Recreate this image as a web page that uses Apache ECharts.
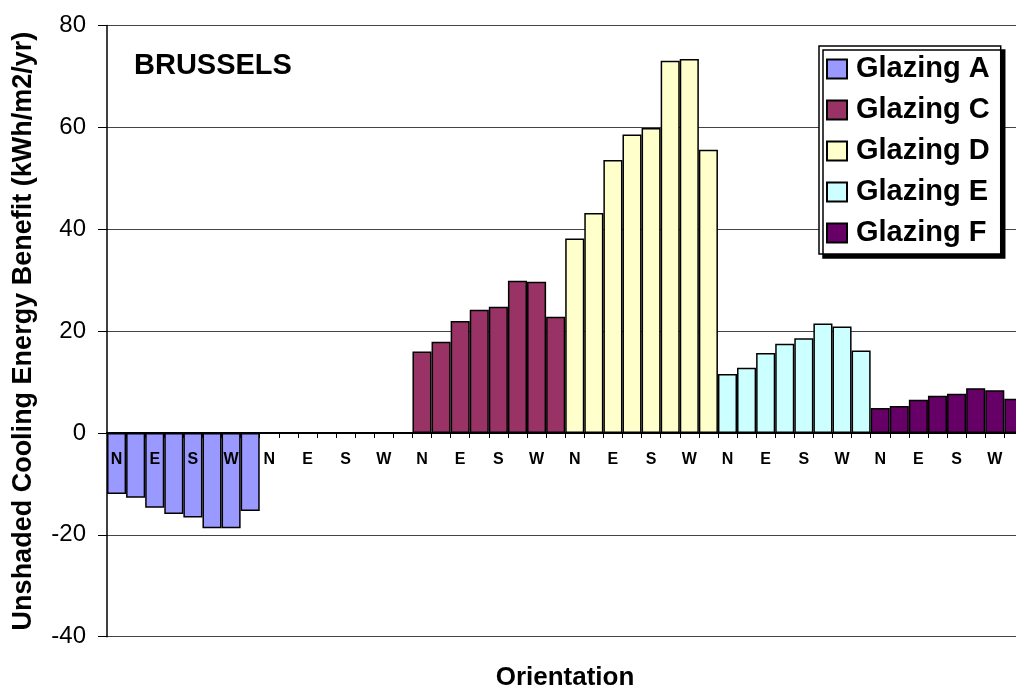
<!DOCTYPE html>
<html>
<head>
<meta charset="utf-8">
<title>Brussels - Unshaded Cooling Energy Benefit</title>
<script src="https://cdn.jsdelivr.net/npm/echarts@6/dist/echarts.min.js"></script>
<style>
  html, body { margin: 0; padding: 0; background: #fff; }
  #chart { width: 1016px; height: 697px; }
</style>
</head>
<body>
<div id="chart"></div>
<script>
// one group = 8 orientations
const orientations = ['N', 'NE', 'E', 'SE', 'S', 'SW', 'W', 'NW'];
const groupCount = 6; // A, (B empty), C, D, E, F

const glazingA = [-12.0, -12.7, -14.7, -15.9, -16.6, -18.7, -18.7, -15.3];
const glazingC = [16.0, 17.9, 22.0, 24.2, 24.8, 29.9, 29.7, 22.8];
const glazingD = [38.2, 43.2, 53.6, 58.6, 59.9, 73.1, 73.4, 55.6];
const glazingE = [11.6, 12.8, 15.7, 17.5, 18.6, 21.5, 20.9, 16.2];
const glazingF = [4.9, 5.3, 6.5, 7.3, 7.7, 8.8, 8.4, 6.7];

const yTicks = { min: -40, max: 80, step: 20 };

const FONT = '"Liberation Sans", Arial, sans-serif';

// grid box in px (plot runs a little past the right edge, like the original)
const gridTop = 25.5;
const gridBottom = 636.7;

// spread a group's 8 values across the 48 categories
const placeGroup = (values, groupIndex) => {
  const out = new Array(orientations.length * groupCount).fill(null);
  values.forEach((v, i) => { out[groupIndex * orientations.length + i] = v; });
  return out;
};

const categories = [];
for (let g = 0; g < groupCount; g++) categories.push(...orientations);

const seriesDefs = [
  { name: 'Glazing A', data: glazingA, group: 0, color: '#9999FF' },
  { name: 'Glazing C', data: glazingC, group: 2, color: '#993366' },
  { name: 'Glazing D', data: glazingD, group: 3, color: '#FFFFCC' },
  { name: 'Glazing E', data: glazingE, group: 4, color: '#CCFFFF' },
  { name: 'Glazing F', data: glazingF, group: 5, color: '#660066' }
];

// x axis sits on the zero line
const zeroOffset = (gridBottom - gridTop) * (0 - yTicks.min) / (yTicks.max - yTicks.min);

const myChart = echarts.init(document.getElementById('chart'));

const option = {
  backgroundColor: '#fff',
  animation: false,
  textStyle: { fontFamily: FONT },
  title: [
    {
      text: 'BRUSSELS',
      left: 134, top: 51, padding: 0,
      textStyle: { fontFamily: FONT, fontSize: 29, fontWeight: 'bold', color: '#000' }
    },
    {
      text: 'Orientation',
      left: 565, top: 665, padding: 0, textAlign: 'center',
      textStyle: { fontFamily: FONT, fontSize: 26, fontWeight: 'bold', color: '#000' }
    }
  ],
  legend: {
    orient: 'vertical',
    left: 819, top: 46,
    padding: [8, 11, 6, 7],
    itemGap: 11,
    itemWidth: 20, itemHeight: 19,
    icon: 'rect',
    backgroundColor: '#fff',
    borderColor: '#000',
    borderWidth: 1.5,
    shadowColor: '#000',
    shadowOffsetX: 4,
    shadowOffsetY: 4,
    shadowBlur: 0,
    textStyle: {
      fontFamily: FONT, fontSize: 29, fontWeight: 'bold', color: '#000',
      lineHeight: 30, padding: [0, 0, 0, 4]
    },
    data: seriesDefs.map(s => s.name)
  },
  grid: {
    left: 107, top: gridTop, right: -7.4, bottom: 697 - gridBottom,
    containLabel: false,
    outerBoundsMode: 'none'
  },
  xAxis: {
    type: 'category',
    data: categories,
    z: 5,
    offset: -zeroOffset,
    axisLine: { onZero: false, lineStyle: { color: '#000', width: 2 } },
    axisTick: { show: true, interval: 0, length: 5, lineStyle: { color: '#000', width: 1 } },
    axisLabel: {
      interval: 1, margin: 19,
      fontFamily: FONT, fontSize: 16, fontWeight: 'bold', color: '#000'
    },
    splitLine: { show: false }
  },
  yAxis: {
    type: 'value',
    min: yTicks.min, max: yTicks.max, interval: yTicks.step,
    name: 'Unshaded Cooling Energy Benefit (kWh/m2/yr)',
    nameLocation: 'middle',
    nameGap: 70,
    nameTextStyle: { fontFamily: FONT, fontSize: 27, fontWeight: 'bold', color: '#000' },
    axisLine: { show: true, lineStyle: { color: '#000', width: 1.5 } },
    axisTick: { show: true, length: 9, lineStyle: { color: '#000', width: 1 } },
    axisLabel: { margin: 21, fontFamily: FONT, fontSize: 24, color: '#000' },
    splitLine: { show: true, lineStyle: { color: '#444', width: 1 } }
  },
  series: seriesDefs.map(s => ({
    name: s.name,
    type: 'bar',
    barGap: '-100%',
    barCategoryGap: '0%',
    data: placeGroup(s.data, s.group),
    itemStyle: { color: s.color, borderColor: '#000', borderWidth: 1.5 }
  }))
};

myChart.setOption(option);
</script>
</body>
</html>
